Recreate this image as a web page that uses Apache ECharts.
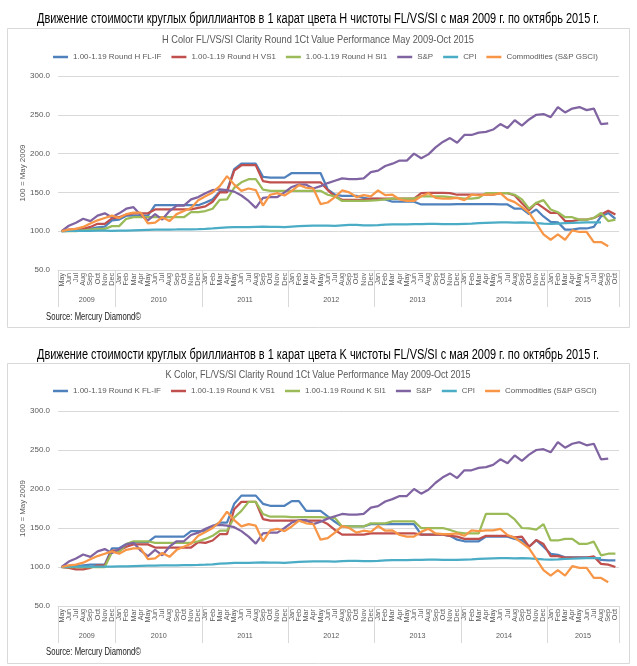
<!DOCTYPE html>
<html><head><meta charset="utf-8">
<script src="https://cdn.jsdelivr.net/npm/echarts@6/dist/echarts.min.js"></script>
<style>html,body{margin:0;padding:0;background:#fff}#c{width:637px;height:666px}</style>
</head><body><div id="c"></div><script>
// ---------- data ----------
const monthNames = ['Jan','Feb','Mar','Apr','May','Jun','Jul','Aug','Sep','Oct','Nov','Dec'];
const years = ['2009','2010','2011','2012','2013','2014','2015'];
const monthsPerYear = [8,12,12,12,12,12,10];
const firstMonthIndex = 4; // May 2009
const yTicks = [50,100,150,200,250,300];

const titleRu1 = 'Движение стоимости круглых бриллиантов в 1 карат цвета H чистоты FL/VS/SI с мая 2009 г. по октябрь 2015 г.';
const titleRu2 = 'Движение стоимости круглых бриллиантов в 1 карат цвета K чистоты FL/VS/SI с мая 2009 г. по октябрь 2015 г.';
const titleEn1 = 'H Color FL/VS/SI Clarity Round 1Ct Value Performance May 2009-Oct 2015';
const titleEn2 = 'K Color, FL/VS/SI Clarity Round 1Ct Value Performance May 2009-Oct 2015';
const sourceText = 'Source: Mercury Diamond©';
const yName = '100 = May 2009';

const namesH = ['1.00-1.19 Round H FL-IF','1.00-1.19 Round H VS1','1.00-1.19 Round H SI1','S&P','CPI','Commodities (S&P GSCI)'];
const namesK = ['1.00-1.19 Round K FL-IF','1.00-1.19 Round K VS1','1.00-1.19 Round K SI1','S&P','CPI','Commodities (S&P GSCI)'];

const hFLIF = [100,100.5,101,101.5,103,105,106,114,
  115,120,120,120,120,133.5,133.5,133.5,133.5,133.5,133.5,133.5,
  137,141,151,152,180,187,187,187,170,169,169,169,
  175,175,175,175,175,154,147,145.5,145.5,145.5,143,141.5,
  141.5,141,138,138,138,138,134.5,134.5,134.5,134.5,134.5,135,
  135,135,135,135,135,134.5,134.5,129,129,122,128,119,
  112,111.5,102,102,103.5,103.5,105.5,119,123.5,116];
const hVS1 = [100,102,103,103,105.5,109.5,109.5,116.5,
  118,121.5,123,123,123,128,128,128,128,128,128,130,
  132,138,150,150,178,185,185,185,164.5,163,163,163,
  163,163,163,163,163,153,145,140.5,140.5,140.5,140.5,142,
  142,142,142,142,142,142,149,149.5,149.5,149.5,149,147,
  147,147,147,147,147,149,149,146,136,127,136.5,130,
  123.5,123.5,113,113,115,115,117,121.5,126.5,121.5];
const hSI1 = [100,100,100,101,102,103,103,106.5,
  106.5,116,118,118,118,118,118,118,118,118,124.5,124.5,
  126,129,140.5,141,156,163,167,167,153.5,152,152,152,
  152,152,152,152,152,147,145,139,139,139,139,139.5,
  140,141,142,142,142,142,145,145,145,145,144,143,
  142,142,143,149,149,149,149,147,141,129,136.5,140,
  128,124.5,118,118,115,115,117,123.5,113,115];
const kFLIF = [100,100,101,102,103,103,103,124,
  124,129.5,132,132,132,139,139,139,139,139,146,146,
  146,152,157,157,181,191.5,191.5,191.5,181,178.5,178.5,178.5,
  184.5,184.5,172,172,172,165,158,152,152,152,152,155,
  155,155,155,155,155,155,141.5,141.5,141.5,141.5,140,135,
  133,133,133,139,139,139,139,136,134.5,126,134.5,126,
  117,115.5,112.5,112.5,112.5,112.5,112.5,109,108.5,108.5];
const kVS1 = [100,99,97,97,99,102,102,121,
  121,126,129,129,129,125,125,125,125,125,125,132,
  131,134,142,142,174,183.5,183.5,183.5,161.5,159.5,159.5,159.5,
  159.5,159.5,159.5,159.5,159.5,155,147.5,141.5,141.5,141.5,141.5,143,
  143,143,143,143,143,143,141.5,141.5,141.5,141.5,140,139,
  136,136,136,140,140,140,140,138,139,126,134.5,129.5,
  114,114,112,112,112,112,113.5,104,103,100];
const kSI1 = [100,100,100,100,100,100,100,119,
  119,129.5,133,133,133,131,131,131,131,131,131,133,
  136,140,146.5,146.5,163.5,172,183.5,183.5,168,164.5,164.5,164.5,
  164,164,164,164,164,163,163,152,152,152,152,156,
  156,156,158.5,158.5,158.5,158.5,150,150,150,150,147.5,144.5,
  143,143,143,168,168,168,168,161,150,149.5,148,155,
  134,134,136,136,129.5,129.5,132.5,115,117,117];
const sp = [100,107,111,116,113,120,123,118,
  123,129,131,121,114,122,115,126,133,133,141,144,
  149,153,154,153,151,146,139,130,143,144,144,150,
  157,160,160,155,158,162,165,168,167,167,168,176,
  178,184,187,191,191,200,194,199,208,215,220,214,
  224,224,227,228,231,238,233,243,236,244,250,251,
  247,260,253,258,260,256,258,238,239];
const cpi = [100,100.5,100.5,100.5,100.5,100.6,100.6,100.5,
  100.8,100.8,101.2,101.5,101.8,101.9,102,102.1,102.2,102.4,102.5,102.7,
  103,103.5,104.2,104.8,105.3,105.3,105.4,105.6,105.8,105.7,105.6,105.4,
  106,106.5,107,107.3,107.2,107.1,107,107.5,108,108,107.6,107.4,
  107.7,108.5,108.8,108.7,108.9,109.1,109.2,109.3,109.4,109.2,109,109,
  109.4,109.8,110.4,110.8,111.2,111.4,111.4,111.2,111.3,111,110.4,109.8,
  109.3,109.8,110.4,110.6,111.1,111.5,111.5,111.4];
const commodities = [100,102,103,105.5,110,114,117,120,
  117,122,124,124,110,111,118,113,122,126,130,140,
  145,150,158,171,160,152,155,153,133,147,149,146,
  152,159.5,156,155,135,137,144,152.5,150,144,146.5,145,
  152.5,146.5,147,141,139,139,145,149,143,142,142,143,
  140,147,146,147,147,149,141,137.5,131,124,110,96,
  89,96,89,101,99,99,86,86,80.5];

const colors = ['#4F81BD','#C0504D','#9BBB59','#8064A2','#4BACC6','#F79646'];

// ---------- derived categories ----------
const categories = [];
const yearStarts = [];
const yearLabelAt = {};
(function(){
  let m = firstMonthIndex, idx = 0;
  years.forEach((y, k) => {
    yearStarts.push(idx);
    yearLabelAt[idx + monthsPerYear[k] / 2] = y;
    for (let j = 0; j < monthsPerYear[k]; j++) { categories.push(monthNames[m % 12]); m++; idx++; }
  });
})();

// ---------- fonts ----------
const FAM = "'Liberation Sans Narrow','Liberation Sans',Arial,sans-serif";
const mctx = document.createElement('canvas').getContext('2d');
function measure(text, size, weight) {
  mctx.font = (weight || 'normal') + ' ' + size + 'px ' + FAM;
  return mctx.measureText(text).width;
}
function fit(text, target, weight) {
  return +(20 * target / measure(text, 20, weight)).toFixed(2);
}
const fsLeg = fit('1.00-1.19 Round K FL-IF', 88);
const fsTick = fit('300.0', 20);
const fsMonth = fit('2009', 16);
const fsName = fit(yName, 57);
const GRAY = '#595959', GRID = '#D9D9D9';

// ---------- option builders ----------
const gridDefs = [{left:58, right:18, top:76, height:194}, {left:58, right:18, top:411, height:195}];

function monthAxis(gi) {
  return {type:'category', gridIndex:gi, data:categories, boundaryGap:true,
    axisLine:{lineStyle:{color:GRID}},
    axisTick:{show:true, interval:(i) => yearStarts.indexOf(i) >= 0, length:37, lineStyle:{color:GRID}},
    axisLabel:{interval:0, rotate:90, margin:3, fontSize:fsMonth, color:GRAY, fontFamily:FAM},
    splitLine:{show:false}};
}
function yearAxis(gi) {
  return {type:'value', gridIndex:gi, min:0, max:categories.length, interval:1, position:'bottom',
    axisLine:{show:false}, axisTick:{show:false}, splitLine:{show:false},
    axisLabel:{margin:27, fontSize:fsMonth, color:GRAY, fontFamily:FAM,
      formatter:(v) => yearLabelAt[v] || ''}};
}
function valueAxis(gi) {
  return {type:'value', gridIndex:gi, min:yTicks[0], max:yTicks[yTicks.length-1], interval:yTicks[1]-yTicks[0],
    axisLine:{show:false}, axisTick:{show:false},
    axisLabel:{formatter:(v) => v.toFixed(1), margin:8, fontSize:fsTick, color:GRAY, fontFamily:FAM},
    splitLine:{lineStyle:{color:GRID, width:1}},
    name:yName, nameLocation:'middle', nameGap:31, nameMoveOverlap:false,
    nameTextStyle:{fontSize:fsName, color:GRAY, fontFamily:FAM}};
}
function line(name, data, color, xi, yi) {
  return {type:'line', name:name, data:data, xAxisIndex:xi, yAxisIndex:yi, symbol:'none',
    lineStyle:{width:2.25, color:color}, itemStyle:{color:color}, emphasis:{disabled:true}};
}
function legend(names, top) {
  return {data:names, top:top, left:53, padding:0, icon:'rect', itemWidth:15, itemHeight:2.5, itemGap:10,
    selectedMode:false, textStyle:{fontSize:fsLeg, color:GRAY, fontFamily:FAM}};
}

const series = [];
[hFLIF, hVS1, hSI1, sp, cpi, commodities].forEach((d, k) => series.push(line(namesH[k], d, colors[k], 0, 0)));
[kFLIF, kVS1, kSI1, sp, cpi, commodities].forEach((d, k) => series.push(line(namesK[k], d, colors[k], 2, 1)));

// text drawn at a natural height, squeezed horizontally to the reference width
function txt(text, x, y, size, color, align, targetW) {
  const sx = targetW ? Math.min(1, targetW / measure(text, size)) : 1;
  return {type:'text', x:x, y:y, z:10, scaleX:sx, originX:0, originY:0,
    style:{text:text, fill:color, font:'normal ' + size + 'px ' + FAM,
    textAlign:align || 'left', textVerticalAlign:'middle'}};
}

const option = {
  animation:false,
  backgroundColor:'#fff',
  grid:gridDefs,
  xAxis:[monthAxis(0), yearAxis(0), monthAxis(1), yearAxis(1)],
  yAxis:[valueAxis(0), valueAxis(1)],
  legend:[legend(namesH, 53), legend(namesK, 387)],
  series:series,
  graphic:[
    {type:'rect', shape:{x:7.5, y:28.5, width:622, height:299}, style:{fill:'none', stroke:GRID, lineWidth:1}, z:-1},
    {type:'rect', shape:{x:7.5, y:363.5, width:622, height:300}, style:{fill:'none', stroke:GRID, lineWidth:1}, z:-1},
    txt(titleRu1, 318, 19, 14, '#000', 'center', 562),
    txt(titleEn1, 318, 40, 11.5, GRAY, 'center', 312),
    txt(sourceText, 46, 317, 10.5, '#1a1a1a', 'left', 95),
    txt(titleRu2, 318, 355, 14, '#000', 'center', 562),
    txt(titleEn2, 318, 375, 11.5, GRAY, 'center', 305),
    txt(sourceText, 46, 652, 10.5, '#1a1a1a', 'left', 95)
  ]
};
const chart = echarts.init(document.getElementById('c'), null, {renderer:'canvas'});
chart.setOption(option);
</script></body></html>
